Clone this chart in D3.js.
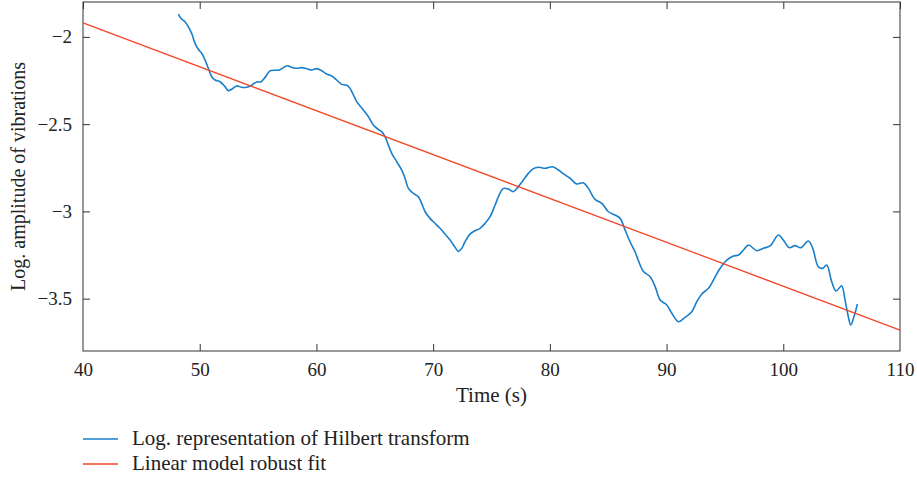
<!DOCTYPE html>
<html><head><meta charset="utf-8">
<script src="https://cdn.jsdelivr.net/npm/d3@7"></script>
<style>body{margin:0;background:#fff;} svg{display:block;} text{font-family:"Liberation Serif","Times New Roman",serif;fill:#222;}</style>
</head><body>
<svg id="c" width="917" height="479"></svg>
<script>
const xTicks = [40,50,60,70,80,90,100,110];
const yTicks = [-2,-2.5,-3,-3.5];
const yTickLabels = ["\u22122","\u22122.5","\u22123","\u22123.5"];
const hilbertT = [48.17,48.46,48.74,49.03,49.31,49.6,49.88,50.17,50.45,50.74,51.03,51.31,51.74,52.17,52.45,52.74,53.17,53.6,54.03,54.46,54.88,55.23,55.6,56.02,56.45,56.82,57.16,57.5,57.88,58.31,58.74,59.16,59.6,60.02,60.45,60.88,61.31,61.74,62.16,62.6,62.88,63.17,63.45,63.74,64.02,64.45,64.88,65.3,65.59,65.88,66.16,66.45,66.88,67.31,67.59,67.88,68.3,68.73,69.02,69.31,69.73,70.16,70.59,71.02,71.45,71.88,72.16,72.45,72.73,73.16,73.59,74.02,74.45,74.88,75.3,75.73,76.02,76.45,76.87,77.3,77.73,78.16,78.59,79.02,79.59,80.24,80.73,81.3,81.73,82.3,82.87,83.3,83.87,84.45,85.02,85.59,86.02,86.45,86.87,87.3,87.6,88.02,88.59,89.02,89.45,90.02,90.45,91.02,91.59,92.16,92.59,93.02,93.59,94.02,94.59,95.16,95.73,96.16,96.59,97.02,97.73,98.3,98.87,99.58,100.0,100.52,101.0,101.49,102.15,102.52,103.0,103.38,103.72,104.15,104.52,105.0,105.29,105.57,105.78,106.06,106.35];
const hilbertV = [-1.869,-1.899,-1.913,-1.942,-1.98,-2.037,-2.071,-2.094,-2.132,-2.18,-2.228,-2.247,-2.257,-2.285,-2.308,-2.30,-2.281,-2.289,-2.289,-2.276,-2.258,-2.258,-2.232,-2.195,-2.191,-2.19,-2.176,-2.165,-2.174,-2.18,-2.176,-2.182,-2.19,-2.182,-2.194,-2.213,-2.224,-2.247,-2.272,-2.277,-2.295,-2.333,-2.371,-2.396,-2.419,-2.457,-2.505,-2.53,-2.543,-2.572,-2.619,-2.667,-2.715,-2.763,-2.81,-2.868,-2.896,-2.916,-2.954,-3.002,-3.04,-3.068,-3.097,-3.13,-3.164,-3.206,-3.229,-3.212,-3.174,-3.13,-3.111,-3.097,-3.068,-3.03,-2.965,-2.895,-2.868,-2.872,-2.887,-2.858,-2.82,-2.782,-2.755,-2.747,-2.753,-2.744,-2.763,-2.791,-2.81,-2.843,-2.836,-2.868,-2.931,-2.954,-3.002,-3.021,-3.04,-3.107,-3.174,-3.231,-3.285,-3.345,-3.374,-3.431,-3.508,-3.536,-3.584,-3.632,-3.607,-3.575,-3.517,-3.473,-3.441,-3.393,-3.326,-3.279,-3.256,-3.25,-3.221,-3.193,-3.225,-3.211,-3.198,-3.135,-3.164,-3.208,-3.196,-3.208,-3.17,-3.211,-3.317,-3.326,-3.307,-3.403,-3.456,-3.427,-3.508,-3.603,-3.651,-3.603,-3.531];
const fitT = [40,110];
const fitV = [-1.92,-3.68];
const legendLabels = ["Log. representation of Hilbert transform","Linear model robust fit"];
const colors = ["#1a7fca","#f2472a"];

const svg = d3.select("#c");
const L=83, R=900, T=2, B=351;
const x = d3.scaleLinear().domain([40,110]).range([L,R]);
const y = d3.scaleLinear().domain([-3.8,-1.8]).range([B,T]);

const axisColor="#333";
svg.append("rect").attr("x",L).attr("y",T).attr("width",R-L).attr("height",B-T)
  .attr("fill","none").attr("stroke",axisColor).attr("stroke-width",1);

const tl=7;
const gx = svg.append("g").attr("transform",`translate(0,${B})`)
  .call(d3.axisBottom(x).tickValues(xTicks).tickSize(-tl).tickPadding(12).tickFormat(d3.format("d")));
const gxt = svg.append("g").attr("transform",`translate(0,${T})`)
  .call(d3.axisTop(x).tickValues(xTicks).tickSize(-tl).tickFormat(""));
const gy = svg.append("g").attr("transform",`translate(${L},0)`)
  .call(d3.axisLeft(y).tickValues(yTicks).tickSize(-tl).tickPadding(11).tickFormat((d,i)=>yTickLabels[i]));
const gyr = svg.append("g").attr("transform",`translate(${R},0)`)
  .call(d3.axisRight(y).tickValues(yTicks).tickSize(-tl).tickFormat(""));
[gx,gxt,gy,gyr].forEach(g=>{
  g.select(".domain").remove();
  g.selectAll(".tick line").attr("stroke",axisColor);
  g.selectAll(".tick text").attr("font-family","Liberation Serif, serif").attr("font-size",19).attr("fill","#222");
});
gx.selectAll(".tick").filter(d=>d===40||d===110).select("line").remove();

const lineGen = d3.line().x(d=>x(d[0])).y(d=>y(d[1])).curve(d3.curveCatmullRom);
const blue = hilbertT.map((t,i)=>[t,hilbertV[i]]);
const red = fitT.map((t,i)=>[t,fitV[i]]);
svg.append("path").datum(blue).attr("d",lineGen).attr("fill","none").attr("stroke",colors[0]).attr("stroke-width",1.6);
svg.append("path").datum(red).attr("d",d3.line().x(d=>x(d[0])).y(d=>y(d[1]))).attr("fill","none").attr("stroke",colors[1]).attr("stroke-width",1.3);

svg.append("text").attr("x",(L+R)/2).attr("y",402).attr("text-anchor","middle").attr("font-size",21).text("Time (s)");
svg.append("text").attr("transform",`translate(25,${(T+B)/2}) rotate(-90)`).attr("text-anchor","middle").attr("font-size",20).text("Log. amplitude of vibrations");

legendLabels.forEach((lab,i)=>{
  const yy = 439 + i*25;
  svg.append("line").attr("x1",83).attr("x2",118).attr("y1",yy).attr("y2",yy).attr("stroke",colors[i]).attr("stroke-width",1.5);
  svg.append("text").attr("x",132).attr("y",yy+6).attr("font-size",21).text(lab);
});
</script>
</body></html>
